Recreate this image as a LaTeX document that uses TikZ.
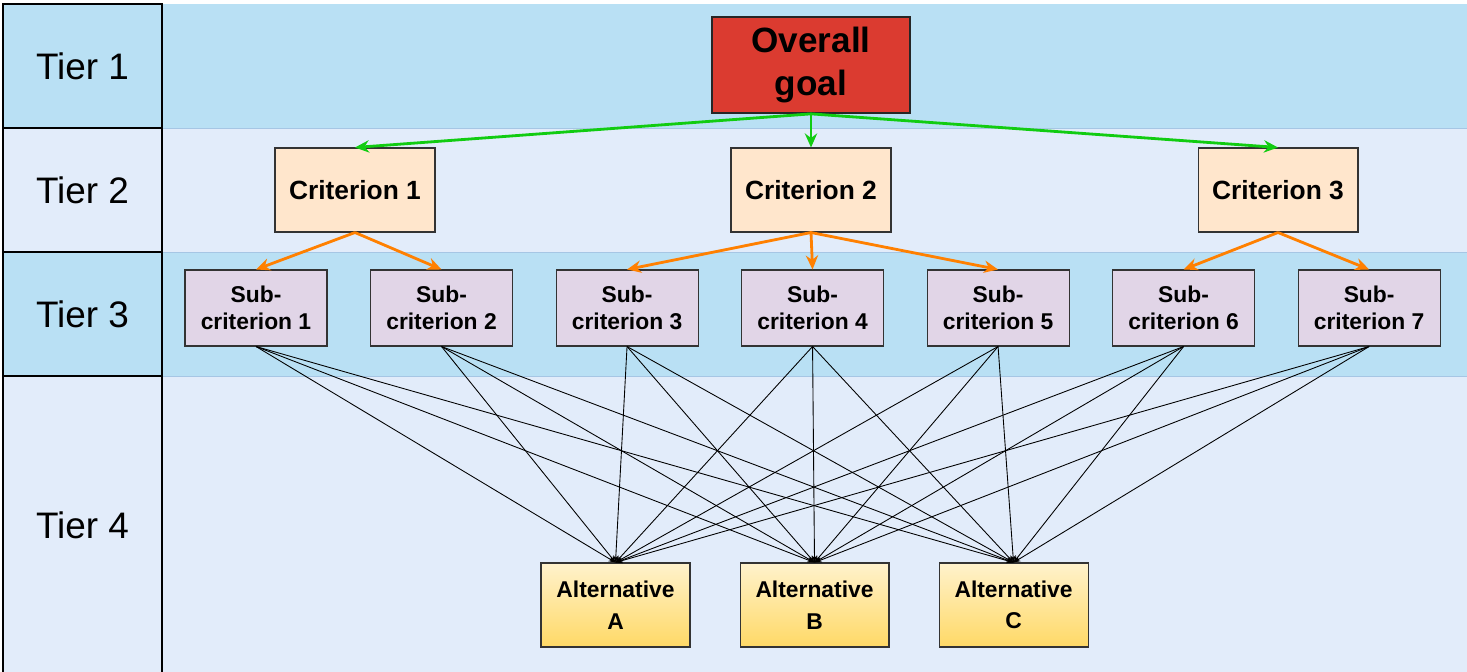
\documentclass[tikz,border=0pt]{standalone}
\usepackage{fontspec}
\setmainfont{Liberation Sans}
\usetikzlibrary{arrows.meta,positioning}
\definecolor{banddark}{HTML}{B9E0F4}
\definecolor{bandlight}{HTML}{E2ECFA}
\definecolor{bandline}{HTML}{A6C6E4}
\definecolor{goalred}{HTML}{DB3B30}
\definecolor{critfill}{HTML}{FFE6CC}
\definecolor{subfill}{HTML}{E1D5E7}
\definecolor{alttop}{HTML}{FFF2CC}
\definecolor{altbottom}{HTML}{FFD966}
\definecolor{goalgreen}{HTML}{11CC11}
\definecolor{critorange}{HTML}{FF8000}

\begin{document}
\begin{tikzpicture}[
  x=0.02cm, y=-0.02cm,
  tier/.style={rectangle, draw, line width=1.2pt, minimum width=3.18cm, minimum height=2.48cm, font=\fontsize{21}{25}\selectfont},
  goal/.style={rectangle, draw=black!85, line width=1pt, fill=goalred, minimum width=3.96cm, minimum height=1.92cm, align=center, font=\bfseries\fontsize{20}{24}\selectfont},
  crit/.style={rectangle, draw=black!80, line width=0.6pt, fill=critfill, minimum width=3.2cm, minimum height=1.68cm, font=\bfseries\fontsize{15}{18}\selectfont},
  subcrit/.style={rectangle, draw=black!80, line width=0.6pt, fill=subfill, minimum width=2.84cm, minimum height=1.52cm, align=center, font=\bfseries\fontsize{13}{15}\selectfont},
  alt/.style={rectangle, draw=black!80, line width=0.6pt, top color=alttop, bottom color=altbottom, minimum width=2.98cm, minimum height=1.68cm, inner sep=1pt, align=center, font=\bfseries\fontsize{13}{18}\selectfont},
  goalarrow/.style={-{Stealth[length=8pt,width=7pt]}, draw=goalgreen, line width=1.6pt},
  critarrow/.style={-{Stealth[length=8pt,width=7pt]}, draw=critorange, line width=1.6pt},
  altline/.style={-{Stealth[length=4pt,width=3pt]}, line width=0.5pt}
]
  \useasboundingbox (0,0) rectangle (1467,672);
  \fill[banddark] (162,4) rectangle (1467,128);
  \fill[bandlight] (162,128) rectangle (1467,252);
  \fill[banddark] (162,252) rectangle (1467,376);
  \fill[bandlight] (162,376) rectangle (1467,680);
  \draw[bandline] (162,128) -- (1467,128) (162,252) -- (1467,252) (162,376) -- (1467,376);

  \node[tier, fill=banddark] (t1) at (82.5,66) {Tier 1};
  \node[tier, fill=bandlight] (t2) at (82.5,190) {Tier 2};
  \node[tier, fill=banddark] (t3) at (82.5,314) {Tier 3};
  \node[tier, fill=bandlight, minimum height=5.98cm] (t4) at (82.5,525.5) {Tier 4};

  \node[goal] (goal) at (811,65) {Overall\\goal};

  \node[crit] (crit1) at (355,190) {Criterion 1};
  \node[crit] (crit2) at (811,190) {Criterion 2};
  \node[crit] (crit3) at (1278,190) {Criterion 3};

  \node[subcrit] (sub1) at (256,308) {Sub-\\criterion 1};
  \node[subcrit, right=0.85cm of sub1] (sub2) {Sub-\\criterion 2};
  \node[subcrit, right=0.85cm of sub2] (sub3) {Sub-\\criterion 3};
  \node[subcrit, right=0.85cm of sub3] (sub4) {Sub-\\criterion 4};
  \node[subcrit, right=0.85cm of sub4] (sub5) {Sub-\\criterion 5};
  \node[subcrit, right=0.85cm of sub5] (sub6) {Sub-\\criterion 6};
  \node[subcrit, right=0.85cm of sub6] (sub7) {Sub-\\criterion 7};

  \node[alt] (altA) at (615.5,605) {Alternative\\A};
  \node[alt, right=0.98cm of altA] (altB) {Alternative\\B};
  \node[alt, right=0.98cm of altB] (altC) {Alternative\\C};

  \foreach \c in {1,2,3}
    \draw[goalarrow] (goal.south) -- (crit\c.north);
  \draw[critarrow] (crit1.south) -- (sub1.north);
  \draw[critarrow] (crit1.south) -- (sub2.north);
  \foreach \s in {3,4,5}
    \draw[critarrow] (crit2.south) -- (sub\s.north);
  \draw[critarrow] (crit3.south) -- (sub6.north);
  \draw[critarrow] (crit3.south) -- (sub7.north);
  \foreach \s in {1,...,7}
    \foreach \a in {A,B,C}
      \draw[altline] (sub\s.south) -- (alt\a.north);
\end{tikzpicture}
\end{document}
